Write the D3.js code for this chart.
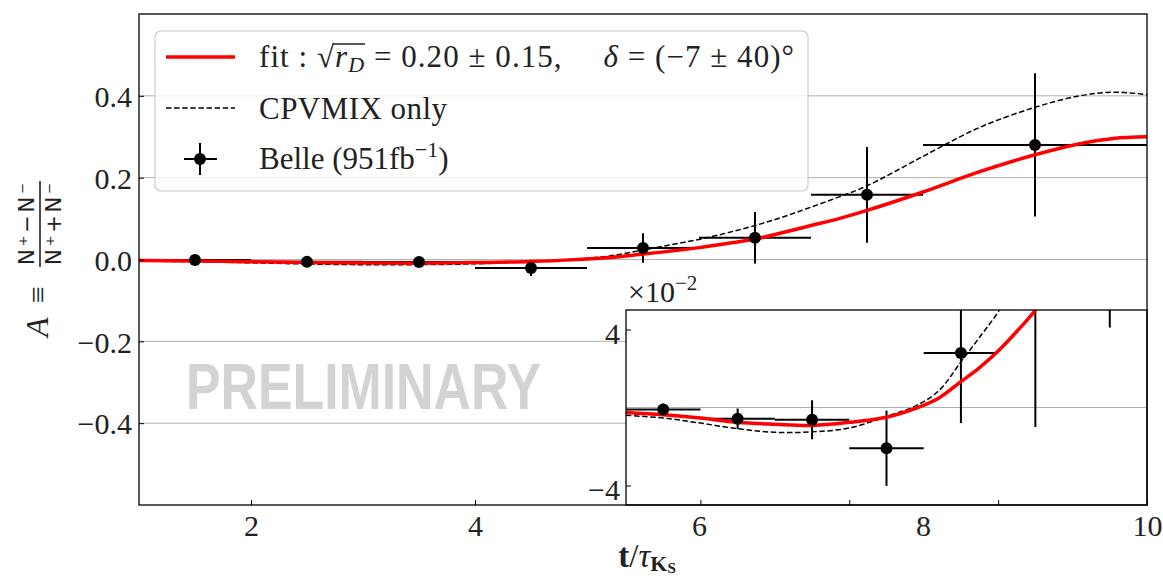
<!DOCTYPE html>
<html>
<head>
<meta charset="utf-8">
<script src="https://cdn.jsdelivr.net/npm/d3@7"></script>
<style>
  body { margin: 0; background: #fff; }
  svg { display: block; }
</style>
</head>
<body>
<svg id="chart" width="1163" height="580"></svg>
<script>
// ---- measured asymmetry per decay-time bin ----
const binCenters = [1.5, 2.5, 3.5, 4.5, 5.5, 6.5, 7.5, 9.0];
const binLow     = [1, 2, 3, 4, 5, 6, 7, 8];
const binHigh    = [2, 3, 4, 5, 6, 7, 8, 10];
const asym       = [-0.001, -0.0058, -0.0063, -0.0209, 0.028, 0.053, 0.158, 0.280];
const asymErr    = [0.003, 0.0053, 0.010, 0.0193, 0.036, 0.063, 0.117, 0.175];

// ---- model curves ----
const curveT   = [1.0, 1.5, 2.0, 2.5, 3.0, 3.5, 4.0, 4.5, 4.9, 5.2, 5.5, 5.75, 6.0, 6.25, 6.5, 6.75, 7.0, 7.25, 7.5, 8.0, 8.5, 9.0, 9.4, 9.7, 10.0];
const fitCurve = [-0.0025, -0.0037, -0.0054, -0.0076, -0.0086, -0.0092, -0.0076, -0.005, -0.0003, 0.0048, 0.0133, 0.0205, 0.029, 0.039, 0.050, 0.066, 0.083, 0.100, 0.120, 0.165, 0.214, 0.256, 0.283, 0.296, 0.300];
const cpvCurve = [-0.004, -0.0054, -0.008, -0.0109, -0.0127, -0.0125, -0.0105, -0.0046, 0.001, 0.0085, 0.0234, 0.036, 0.049, 0.065, 0.083, 0.104, 0.128, 0.153, 0.180, 0.252, 0.322, 0.372, 0.400, 0.409, 0.403];

// ---- axes ticks ----
const xTicks = [2, 4, 6, 8, 10];
const yTicks = [-0.4, -0.2, 0.0, 0.2, 0.4];
const insetXTicks = [2, 4, 6];
const insetYTicks = [-0.04, 0.04];

const serif = "'Liberation Serif', 'DejaVu Serif', serif";
const sans = "'DejaVu Sans', 'Liberation Sans', sans-serif";
const svg = d3.select("#chart");

const points = binCenters.map((t, i) => ({ t, lo: binLow[i], hi: binHigh[i], a: asym[i], e: asymErr[i] }));
const fitPts = curveT.map((t, i) => [t, fitCurve[i]]);
const cpvPts = curveT.map((t, i) => [t, cpvCurve[i]]);

const defs = svg.append("defs");

// ---------- main panel ----------
const M = { l: 139, r: 1147, t: 14, b: 505 };
const x = d3.scaleLinear().domain([1, 10]).range([M.l, M.r]);
const y = d3.scaleLinear().domain([-0.6, 0.6]).range([M.b, M.t]);

defs.append("clipPath").attr("id", "clipMain").append("rect")
  .attr("x", M.l).attr("y", M.t).attr("width", M.r - M.l).attr("height", M.b - M.t);

svg.append("g").selectAll("line").data(yTicks).join("line")
  .attr("x1", M.l).attr("x2", M.r)
  .attr("y1", d => y(d)).attr("y2", d => y(d))
  .attr("stroke", "#b0b0b0").attr("stroke-width", 1);

function drawContent(g, xs, ys) {
  const line = d3.line().x(d => xs(d[0])).y(d => ys(d[1])).curve(d3.curveCatmullRom.alpha(0.5));
  g.append("path").datum(cpvPts).attr("d", line)
    .attr("fill", "none").attr("stroke", "#000").attr("stroke-width", 1.5)
    .attr("stroke-dasharray", "5.5,2.6");
  const eb = g.append("g");
  eb.selectAll("line.h").data(points).join("line").attr("class", "h")
    .attr("x1", d => xs(d.lo)).attr("x2", d => xs(d.hi))
    .attr("y1", d => ys(d.a)).attr("y2", d => ys(d.a))
    .attr("stroke", "#000").attr("stroke-width", 2);
  eb.selectAll("line.v").data(points).join("line").attr("class", "v")
    .attr("x1", d => xs(d.t)).attr("x2", d => xs(d.t))
    .attr("y1", d => ys(d.a - d.e)).attr("y2", d => ys(d.a + d.e))
    .attr("stroke", "#000").attr("stroke-width", 2);
  g.append("path").datum(fitPts).attr("d", line)
    .attr("fill", "none").attr("stroke", "#ff0000").attr("stroke-width", 3.5);
  g.selectAll("circle").data(points).join("circle")
    .attr("cx", d => xs(d.t)).attr("cy", d => ys(d.a)).attr("r", 6).attr("fill", "#000");
}

const mainG = svg.append("g").attr("clip-path", "url(#clipMain)");
drawContent(mainG, x, y);

// watermark
svg.append("text").attr("x", 186).attr("y", 409)
  .attr("font-family", "'Liberation Sans', Arial, sans-serif").attr("font-weight", "bold")
  .attr("font-size", 64).attr("fill", "#d3d3d3")
  .attr("textLength", 355).attr("lengthAdjust", "spacingAndGlyphs")
  .text("PRELIMINARY");

// axes
const yAxis = svg.append("g").attr("transform", `translate(${M.l},0)`)
  .call(d3.axisLeft(y).tickValues(yTicks).tickFormat(d3.format(".1f")).tickSize(-5).tickPadding(7));
const xAxis = svg.append("g").attr("transform", `translate(0,${M.b})`)
  .call(d3.axisBottom(x).tickValues(xTicks).tickFormat(d3.format("d")).tickSize(-5).tickPadding(10));
[yAxis, xAxis].forEach(a => {
  a.select(".domain").remove();
  a.selectAll("line").attr("stroke", "#000").attr("stroke-width", 1);
  a.selectAll("text").attr("font-family", serif).attr("font-size", 30).attr("fill", "#222");
});
yAxis.selectAll("text").attr("dy", "0.36em");

// ---------- inset panel ----------
const I = { l: 626, r: 1147, t: 310, b: 505 };
const xi = d3.scaleLinear().domain([1, 8]).range([I.l, I.r]);
const yi = d3.scaleLinear().domain([-0.05, 0.05]).range([I.b, I.t]);

defs.append("clipPath").attr("id", "clipInset").append("rect")
  .attr("x", I.l).attr("y", I.t).attr("width", I.r - I.l).attr("height", I.b - I.t);

svg.append("rect").attr("x", I.l).attr("y", I.t)
  .attr("width", I.r - I.l).attr("height", I.b - I.t).attr("fill", "#fff");
svg.append("line").attr("x1", I.l).attr("x2", I.r).attr("y1", yi(0)).attr("y2", yi(0))
  .attr("stroke", "#b0b0b0").attr("stroke-width", 1.2);

const insetG = svg.append("g").attr("clip-path", "url(#clipInset)");
drawContent(insetG, xi, yi);

const yiAxis = svg.append("g").attr("transform", `translate(${I.l},0)`)
  .call(d3.axisLeft(yi).tickValues(insetYTicks).tickFormat(d => d > 0 ? "4" : "\u22124").tickSize(-5).tickPadding(6));
const xiAxis = svg.append("g").attr("transform", `translate(0,${I.b})`)
  .call(d3.axisBottom(xi).tickValues(insetXTicks).tickFormat("").tickSize(-5));
[yiAxis, xiAxis].forEach(a => {
  a.select(".domain").remove();
  a.selectAll("line").attr("stroke", "#000").attr("stroke-width", 1);
  a.selectAll("text").attr("font-family", serif).attr("font-size", 30).attr("fill", "#222");
});
yiAxis.selectAll("text").attr("dy", "0.45em");

svg.append("rect").attr("x", I.l).attr("y", I.t)
  .attr("width", I.r - I.l).attr("height", I.b - I.t)
  .attr("fill", "none").attr("stroke", "#000").attr("stroke-width", 1.3);

// offset label of the inset
const off = svg.append("text").attr("x", 628).attr("y", 302)
  .attr("font-family", serif).attr("font-size", 30).attr("fill", "#222");
off.append("tspan").text("\u00d710");
off.append("tspan").attr("dy", -12).attr("font-size", 21).text("\u22122");

// main frame
svg.append("rect").attr("x", M.l).attr("y", M.t)
  .attr("width", M.r - M.l).attr("height", M.b - M.t)
  .attr("fill", "none").attr("stroke", "#000").attr("stroke-width", 1.3);

// ---------- legend ----------
const leg = svg.append("g");
leg.append("rect").attr("x", 155).attr("y", 31).attr("width", 653).attr("height", 160)
  .attr("rx", 6).attr("fill", "#fff").attr("fill-opacity", 0.8)
  .attr("stroke", "#cccccc").attr("stroke-width", 1.2);
leg.append("line").attr("x1", 166).attr("x2", 235).attr("y1", 57).attr("y2", 57)
  .attr("stroke", "#ff0000").attr("stroke-width", 3.5);
leg.append("line").attr("x1", 166).attr("x2", 235).attr("y1", 108).attr("y2", 108)
  .attr("stroke", "#000").attr("stroke-width", 1.5).attr("stroke-dasharray", "5.5,2.6");
leg.append("line").attr("x1", 184).attr("x2", 217).attr("y1", 159).attr("y2", 159)
  .attr("stroke", "#000").attr("stroke-width", 2);
leg.append("line").attr("x1", 200).attr("x2", 200).attr("y1", 143).attr("y2", 175)
  .attr("stroke", "#000").attr("stroke-width", 2);
leg.append("circle").attr("cx", 200).attr("cy", 159).attr("r", 6).attr("fill", "#000");

const l1 = leg.append("text").attr("x", 259).attr("y", 67)
  .attr("font-family", serif).attr("font-size", 31).attr("fill", "#222")
  .attr("textLength", 535).attr("lengthAdjust", "spacing");
l1.append("tspan").text("fit : ");
l1.append("tspan").text("\u221a");
l1.append("tspan").attr("font-style", "italic").text("r");
l1.append("tspan").attr("font-style", "italic").attr("font-size", 22).attr("dy", 5).text("D");
l1.append("tspan").attr("dy", -5).text(" = 0.20 \u00b1 0.15,\u2003 ");
l1.append("tspan").attr("font-style", "italic").text("\u03b4");
l1.append("tspan").text(" = (\u22127 \u00b1 40)\u00b0");
// bar of the radical over r_D
{
  const n = l1.node();
  const s = n.getEndPositionOfChar(6).x;
  const e = n.getEndPositionOfChar(8).x;
  leg.append("line").attr("x1", s - 1).attr("x2", e + 1).attr("y1", 44).attr("y2", 44)
    .attr("stroke", "#222").attr("stroke-width", 1.4);
}

leg.append("text").attr("x", 259).attr("y", 119)
  .attr("font-family", serif).attr("font-size", 31).attr("fill", "#222")
  .attr("textLength", 188).attr("lengthAdjust", "spacing")
  .text("CPVMIX only");

const l3 = leg.append("text").attr("x", 259).attr("y", 169)
  .attr("font-family", serif).attr("font-size", 31).attr("fill", "#222");
l3.append("tspan").text("Belle (951fb");
l3.append("tspan").attr("dy", -12).attr("font-size", 22).text("\u22121");
l3.append("tspan").attr("dy", 12).text(")");

// ---------- axis titles ----------
const xl = svg.append("text").attr("x", 647).attr("y", 567).attr("text-anchor", "middle")
  .attr("font-family", serif).attr("font-size", 33).attr("fill", "#222");
xl.append("tspan").attr("font-weight", "bold").text("t");
xl.append("tspan").text("/");
xl.append("tspan").attr("font-style", "italic").text("\u03c4");
xl.append("tspan").attr("font-weight", "bold").attr("font-size", 22).attr("dy", 4).text("K");
xl.append("tspan").attr("font-weight", "bold").attr("font-size", 15).attr("dy", 2).text("S");

const yl = svg.append("g").attr("transform", "translate(38,258) rotate(-90)");
yl.append("text").attr("x", -79).attr("y", 10)
  .attr("font-family", serif).attr("font-style", "italic").attr("font-size", 32).attr("fill", "#222")
  .text("A");
yl.append("text").attr("x", -45).attr("y", 10)
  .attr("font-family", serif).attr("font-size", 30).attr("fill", "#222")
  .text("\u2261");
yl.append("line").attr("x1", -9).attr("x2", 77).attr("y1", 2).attr("y2", 2)
  .attr("stroke", "#222").attr("stroke-width", 1.6);
yl.append("text").attr("x", -7).attr("y", -4)
  .attr("font-family", sans).attr("font-size", 21).attr("fill", "#222")
  .attr("textLength", 82).attr("lengthAdjust", "spacing")
  .text("N\u207a\u2212N\u207b");
yl.append("text").attr("x", -7).attr("y", 23)
  .attr("font-family", sans).attr("font-size", 21).attr("fill", "#222")
  .attr("textLength", 82).attr("lengthAdjust", "spacing")
  .text("N\u207a+N\u207b");
</script>
</body>
</html>
